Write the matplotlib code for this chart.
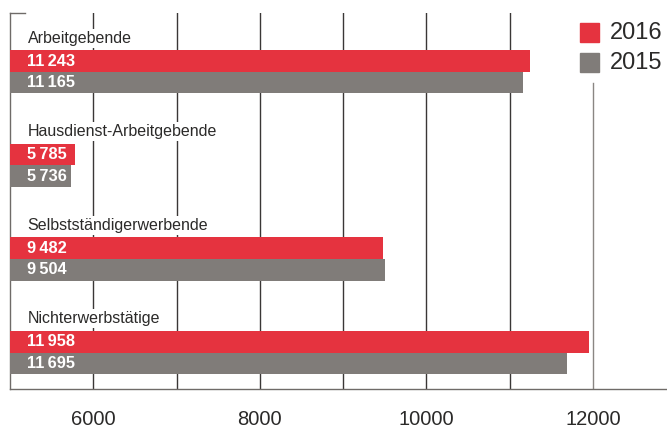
import numpy as np
import matplotlib.pyplot as plt
from matplotlib.patches import Rectangle

plt.rcParams['font.family'] = ['Liberation Sans', 'DejaVu Sans']

categories = ['Arbeitgebende', 'Hausdienst-Arbeitgebende', 'Selbstständigerwerbende', 'Nichterwerbstätige']
values_2016 = [11243, 5785, 9482, 11958]
values_2015 = [11165, 5736, 9504, 11695]
series_labels = ['2016', '2015']
tick_values = [6000, 8000, 10000, 12000]

red = '#e5333f'
gray = '#807c79'
text_col = '#2b2a29'


def fmt(v):
    s = str(v)
    return s[:-3] + '\u2009' + s[-3:]


fig = plt.figure(figsize=(6.67, 4.30), dpi=100)
ax = fig.add_axes([10 / 667, (430 - 389) / 430, 657 / 667, (389 - 13) / 430])

x0 = 5000
h = 0.23
y = np.arange(len(categories))

# grid lines
for gx in range(6000, 13000, 1000):
    top = -0.63 if gx < 12000 else 0.12
    ax.plot([gx, gx], [top, 3.39], color='#3a3736' if gx < 12000 else '#8a8683', lw=1.0, zorder=1)

ax.barh(y - h / 2, np.array(values_2016) - x0, left=x0, height=h, color=red, zorder=3)
ax.barh(y + h / 2, np.array(values_2015) - x0, left=x0, height=h, color=gray, zorder=3)

for i, cat in enumerate(categories):
    ax.text(5210, i - 0.36, cat, fontsize=11.5, color=text_col, va='center', ha='left', zorder=4,
            bbox=dict(facecolor='white', edgecolor='none', pad=1.5))
    ax.text(5210, i - h / 2, fmt(values_2016[i]), fontsize=11.8, fontweight='bold', color='white',
            va='center', ha='left', zorder=5)
    ax.text(5210, i + h / 2, fmt(values_2015[i]), fontsize=11.8, fontweight='bold', color='white',
            va='center', ha='left', zorder=5)

ax.set_xlim(x0, 12890)
ax.set_ylim(3.39, -0.63)

for s in ['top', 'right']:
    ax.spines[s].set_visible(False)
ax.spines['left'].set_color('#6f6b68')
ax.spines['bottom'].set_color('#6f6b68')
ax.spines['left'].set_linewidth(1.0)
ax.spines['bottom'].set_linewidth(1.0)
# small top corner tick
ax.plot([x0, 5180], [-0.63, -0.63], color='#6f6b68', lw=1.0, clip_on=False, zorder=2)

ax.set_yticks([])
ax.set_xticks(tick_values)
ax.set_xticklabels([str(t) for t in tick_values], fontsize=14.5, color=text_col)
ax.tick_params(axis='x', length=0, pad=15)

# legend
for j, (lab, col) in enumerate(zip(series_labels, [red, gray])):
    yy = -0.42 + j * 0.32
    ax.add_patch(Rectangle((11845, yy - 0.1), 228, 0.2, color=col, zorder=3, clip_on=False))
    ax.text(12200, yy, lab, fontsize=17, color=text_col, va='center', ha='left')

fig.savefig('out.png', dpi=100)
